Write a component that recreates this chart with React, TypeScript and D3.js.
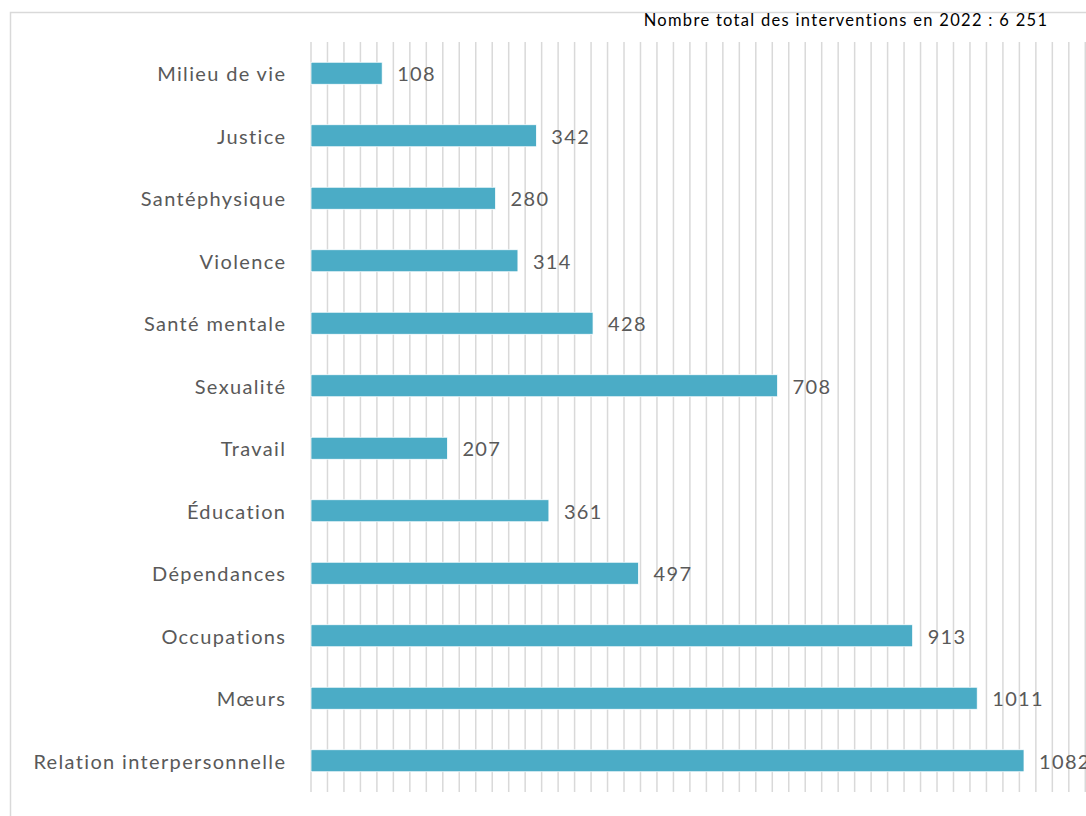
import React from "react";
import * as d3 from "d3";

const categories = [
  "Milieu de vie",
  "Justice",
  "Santéphysique",
  "Violence",
  "Santé mentale",
  "Sexualité",
  "Travail",
  "Éducation",
  "Dépendances",
  "Occupations",
  "Mœurs",
  "Relation interpersonnelle",
];
const values = [108, 342, 280, 314, 428, 708, 207, 361, 497, 913, 1011, 1082];
const title = "Nombre total des interventions en 2022 : 6 251";
const gridStep = 25;
const domainMax = 1200;

export default function App() {
  const W = 1086;
  const H = 816;
  const left = 311;
  const top = 42;
  const bottom = 792;
  const pxPerUnit = 713 / 1082;
  const x = d3.scaleLinear().domain([0, domainMax]).range([left, left + domainMax * pxPerUnit]);
  const y = d3.scaleBand<string>().domain(categories).range([top, bottom]).paddingInner(0.648).paddingOuter(0.324);
  const grid = d3.range(0, domainMax + 1, gridStep);
  const font = "Lato, 'Open Sans', sans-serif";
  const ls = 1.35;
  return (
    <div style={{ position: "fixed", left: 0, top: 0 }}>
      <svg width={W} height={H} style={{ display: "block", background: "#fff", fontVariantLigatures: "none" }}>
        <rect x={10.5} y={12.5} width={W + 20} height={H + 20} fill="#fff" stroke="#d9d9d9" strokeWidth={1.5} />
        {grid.map((g) => (
          <line key={g} x1={x(g)} x2={x(g)} y1={top} y2={bottom} stroke="#d9d9d9" strokeWidth={1.5} />
        ))}
        {categories.map((c, i) => {
          const yy = y(c)!;
          const bw = y.bandwidth();
          return (
            <g key={c}>
              <rect x={x(0)} y={yy} width={x(values[i]) - x(0)} height={bw} fill="#4bacc6" stroke="#fff" strokeWidth={0.75} />
              <text x={285 + ls} y={yy + bw / 2 + 1} dy="0.35em" textAnchor="end" fontFamily={font} fontSize={20} letterSpacing={ls} fill="#595959">
                {c}
              </text>
              <text x={x(values[i]) + 15} y={yy + bw / 2 + 1} dy="0.35em" textAnchor="start" fontFamily={font} fontSize={20} letterSpacing={ls} fill="#595959">
                {values[i]}
              </text>
            </g>
          );
        })}
        <text x={1047 + 1.3} y={26} textAnchor="end" fontFamily={font} fontSize={16.5} letterSpacing={1.3} fill="#000">
          {title}
        </text>
      </svg>
    </div>
  );
}
